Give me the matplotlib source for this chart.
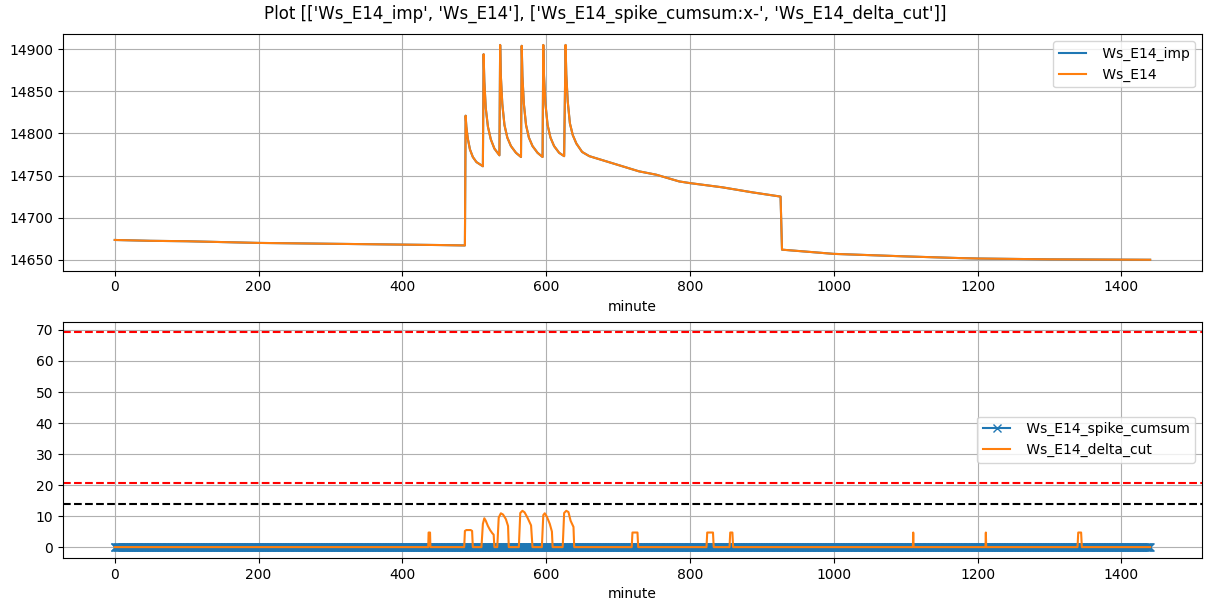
import numpy as np
import matplotlib
matplotlib.use("Agg")
import matplotlib.pyplot as plt

# top panel: weight signal (minute, value)
ws_minutes = [0, 50, 100, 150, 200, 250, 300, 350, 400, 450, 487,
              488, 489, 491, 494, 498, 503, 512,
              513, 514, 516, 519, 523, 528, 535,
              536, 537, 539, 542, 546, 551, 558, 565,
              566, 567, 569, 572, 576, 581, 588, 595,
              596, 597, 599, 602, 606, 611, 618, 625,
              627, 628, 630, 633, 637, 642, 650, 660,
              683, 706, 729, 753, 785, 800, 845, 887, 926,
              928, 1000, 1100, 1175, 1200, 1300, 1440]
ws_values = [14673.5, 14672.5, 14672, 14671, 14670, 14669.5, 14669, 14668.5, 14668, 14667.5, 14667,
             14821, 14808, 14794, 14781, 14772, 14766, 14761,
             14894, 14862, 14830, 14808, 14793, 14782, 14774,
             14905, 14868, 14835, 14810, 14795, 14785, 14777, 14772,
             14904, 14868, 14835, 14810, 14795, 14785, 14777, 14772,
             14905, 14868, 14835, 14810, 14795, 14785, 14777, 14773,
             14905, 14870, 14838, 14812, 14798, 14788, 14778, 14773,
             14767, 14761, 14755, 14751, 14743, 14741, 14736, 14730, 14725,
             14662, 14657, 14654, 14652, 14651.5, 14650.5, 14650]
ws_imp_minutes = ws_minutes
ws_imp_values = ws_values

# bottom panel
delta_minutes = [0, 436, 436.5, 438.5, 439, 486, 487, 489, 495, 497, 498,
                 510, 512, 514, 516, 519, 522, 525, 527, 528,
                 532, 534, 537, 540, 544, 547, 548,
                 562, 564, 567, 570, 574, 579, 581,
                 594, 596, 598, 601, 605, 608, 609,
                 623, 625, 628, 631, 634, 638, 639,
                 719, 720, 727, 728, 823, 824, 832, 833, 855, 856, 859, 860,
                 1110, 1110.5, 1111, 1211, 1211.5, 1212, 1339, 1340, 1344, 1345, 1440]
delta_values = [0, 0, 4.7, 4.7, 0, 0, 5.2, 5.5, 5.5, 5.2, 0,
                0, 7.5, 9.3, 8.5, 6.8, 5.5, 4.5, 4.0, 0,
                0, 9.5, 10.9, 10.5, 9.0, 6.8, 0,
                0, 11.0, 11.7, 11.2, 9.5, 7.0, 0,
                0, 10.3, 10.9, 9.8, 7.5, 5.0, 0,
                0, 11.0, 11.7, 11.3, 8.5, 6.5, 0,
                0, 4.7, 4.7, 0, 0, 4.7, 4.7, 0, 0, 4.7, 4.7, 0,
                0, 4.7, 0, 0, 4.7, 0, 0, 4.7, 4.7, 0, 0]

spike_minutes = np.arange(0, 1441)
spike_cumsum = np.zeros(len(spike_minutes))

limit_high = 69.25
limit_mid = 20.7
limit_low = 14.0

fig, (ax1, ax2) = plt.subplots(2, 1, figsize=(12.11, 6.11), dpi=100)
fig.subplots_adjust(left=0.052, right=0.9925, top=0.944, bottom=0.087, hspace=0.216)
fig.suptitle("Plot [['Ws_E14_imp', 'Ws_E14'], ['Ws_E14_spike_cumsum:x-', 'Ws_E14_delta_cut']]",
             y=0.992, va="top")

ax1.plot(ws_imp_minutes, ws_imp_values, label=" Ws_E14_imp")
ax1.plot(ws_minutes, ws_values, label=" Ws_E14")
ax1.set_xlabel("minute")
ax1.grid(True)
ax1.legend(loc="upper right")

ax2.plot(spike_minutes, spike_cumsum, "x-", label=" Ws_E14_spike_cumsum")
ax2.plot(delta_minutes, delta_values, label=" Ws_E14_delta_cut")
ax2.axhline(limit_high, color="red", linestyle="--")
ax2.axhline(limit_mid, color="red", linestyle="--")
ax2.axhline(limit_low, color="black", linestyle="--")
ax2.set_xlabel("minute")
ax2.grid(True)
ax2.legend(loc="center right")

plt.savefig("out.png")
